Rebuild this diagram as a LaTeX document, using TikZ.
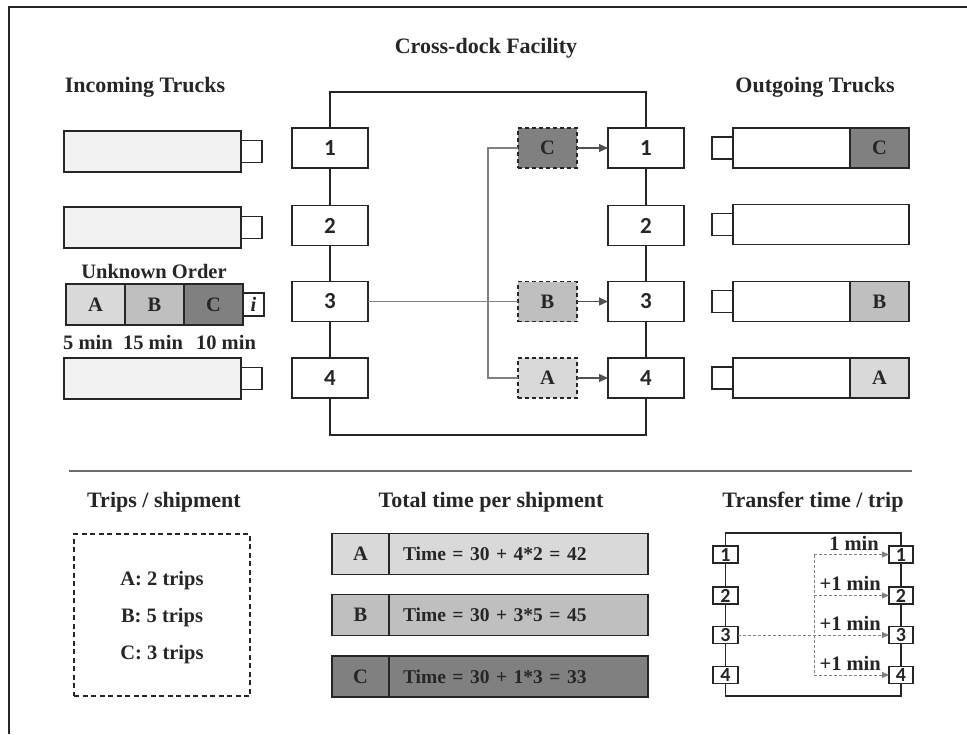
\documentclass[tikz,border=0pt]{standalone}
\usepackage{fontspec}
\setmainfont{Liberation Serif}
\newfontfamily\calib{Carlito}
\usetikzlibrary{arrows.meta,positioning}

\definecolor{lineC}{HTML}{262626}
\definecolor{bodyC}{HTML}{F2F2F2}
\definecolor{shipA}{HTML}{D9D9D9}
\definecolor{shipB}{HTML}{BFBFBF}
\definecolor{shipC}{HTML}{808080}
\definecolor{linkC}{HTML}{808080}

\newcommand\headfont{\fontsize{22}{26}\selectfont\bfseries}
\newcommand\txtfont{\fontsize{20.5}{24}\selectfont\bfseries}
\newcommand\docfont{\fontsize{23}{26}\selectfont\calib\bfseries}
\newcommand\tinyfont{\fontsize{20}{22}\selectfont\calib\bfseries}

\tikzset{
    box/.style={draw=lineC, line width=1.8pt, outer sep=0pt, inner sep=0pt},
    dock/.style={box, fill=white, minimum width=76pt, minimum height=40pt, font=\docfont},
    body/.style={box, minimum width=177pt, minimum height=41pt},
    cab/.style={box, fill=white, minimum width=21pt, minimum height=22pt},
    cargo/.style={box, minimum width=59pt, minimum height=41pt, font=\txtfont},
    ship/.style={box, line width=1.5pt, dash pattern=on 4pt off 3pt, minimum width=59pt, minimum height=40pt, font=\txtfont},
    tag/.style={box, minimum width=57pt, minimum height=41pt, font=\txtfont},
    timebox/.style={box, text width=231pt, inner xsep=14pt, minimum height=41pt, align=left, font=\fontsize{19.5}{23}\selectfont\bfseries},
    mini/.style={box, fill=white, minimum width=25pt, minimum height=17pt, font=\tinyfont},
    link/.style={draw=linkC, line width=1.3pt},
    move/.style={draw=lineC!80, line width=1.3pt, -{Triangle[length=9pt,width=8pt]}},
    hop/.style={draw=linkC, line width=1pt, dash pattern=on 3pt off 2pt},
    lbl/.style={font=\txtfont, inner sep=0pt}
}

\begin{document}
\begin{tikzpicture}[x=1pt, y=-1pt, color=lineC]

    \useasboundingbox (0,0) rectangle (967,734);

    % 1. bingkai dan garis pemisah
    \draw[lineC, line width=1.6pt] (9,734) -- (9,7) -- (967,7);
    \draw[linkC!85!black, line width=1.8pt] (69,471) -- (912,471);

    % 2. judul
    \node[font=\headfont] (ttlDock) at (486,48) {Cross-dock Facility};
    \node[font=\headfont] (ttlIn) at (145,87) {Incoming Trucks};
    \node[font=\headfont] (ttlOut) at (815,87) {Outgoing Trucks};

    % 3. gedung cross-dock dan pintu
    \draw[lineC, line width=1.8pt] (330,92) rectangle (646,435);
    \foreach \n/\y in {1/148,2/225.5,3/301.5,4/378} {
        \node[dock] (in\n) at (330,\y) {\n};
        \node[dock] (out\n) at (646,\y) {\n};
    }

    % 4. truk masuk
    \foreach \n/\y in {1/151.5,2/227.5,4/378.5} {
        \node[body, fill=bodyC] (tin\n) at (152.5,\y) {};
        \node[cab, right=0pt of tin\n] (cin\n) {};
    }
    \node[cargo, fill=shipA] (tA) at (95.5,304.5) {A};
    \node[cargo, fill=shipB, right=0pt of tA] (tB) {B};
    \node[cargo, fill=shipC, right=0pt of tB] (tC) {C};
    \node[cab, minimum height=23pt, font=\txtfont\itshape, right=0pt of tC] (cin3) {i};
    \node[lbl] (unk) at (154,271) {Unknown Order};
    \node[lbl] (minA) at (88,342) {5 min};
    \node[lbl] (minB) at (153,342) {15 min};
    \node[lbl] (minC) at (226,342) {10 min};

    % 5. truk keluar
    \foreach \n/\y in {1/148,2/224.5,3/301.5,4/378} {
        \node[body, fill=white, minimum width=176pt, minimum height=40pt] (tout\n) at (821,\y) {};
        \node[cab, left=0pt of tout\n] (cout\n) {};
    }
    \node[cargo, fill=shipC, minimum height=40pt] (oC) at (879.5,148) {C};
    \node[cargo, fill=shipB, minimum height=40pt] (oB) at (879.5,301.5) {B};
    \node[cargo, fill=shipA, minimum height=40pt] (oA) at (879.5,378) {A};

    % 6. pengiriman di dalam gedung
    \node[ship, fill=shipC] (sC) at (547.5,148) {C};
    \node[ship, fill=shipB] (sB) at (547.5,301.5) {B};
    \node[ship, fill=shipA] (sA) at (547.5,378) {A};
    \draw[link] (in3) -- (sB);
    \draw[link] (sC.west) -- ++(-30,0) |- (sA.west);
    \foreach \s/\d in {C/1,B/3,A/4}
        \draw[move] (s\s) -- (out\d);

    % 7. jumlah trip
    \node[font=\headfont] (ttlTrips) at (164,502) {Trips / shipment};
    \node[box, line width=1.5pt, dash pattern=on 5pt off 3.5pt, minimum width=176pt, minimum height=162pt] (trips) at (162,615) {};
    \node[lbl] (tripA) at (162,581) {A: 2 trips};
    \node[lbl] (tripB) at (162,618) {B: 5 trips};
    \node[lbl] (tripC) at (162,655) {C: 3 trips};

    % 8. total waktu
    \node[font=\headfont] (ttlTime) at (491,502) {Total time per shipment};
    \node[tag, fill=shipA] (kA) at (360.5,554) {A};
    \node[timebox, fill=shipA, right=0pt of kA] (vA) {Time = 30 + 4*2 = 42};
    \node[tag, fill=shipB] (kB) at (360.5,615) {B};
    \node[timebox, fill=shipB, right=0pt of kB] (vB) {Time = 30 + 3*5 = 45};
    \node[tag, fill=shipC] (kC) at (360.5,676.5) {C};
    \node[timebox, fill=shipC, right=0pt of kC] (vC) {Time = 30 + 1*3 = 33};

    % 9. waktu transfer per trip
    \node[font=\headfont] (ttlTrans) at (813,502) {Transfer time / trip};
    \draw[lineC, line width=1.8pt] (725.5,533) rectangle (901,696);
    \foreach \n/\y in {1/554.5,2/595.5,3/635,4/675} {
        \node[mini] (l\n) at (725.5,\y) {\n};
        \node[mini, minimum width=24pt] (r\n) at (901,\y) {\n};
        \coordinate (j\n) at (814,\y);
    }
    \draw[hop] (j1) -- (j4);
    \draw[hop, -{Triangle[length=7pt,width=6pt]}] (l3) -- (r3);
    \foreach \n in {1,2,4}
        \draw[hop, -{Triangle[length=7pt,width=6pt]}] (j\n) -- (r\n);
    \node[lbl, left=10pt of r1.west, anchor=base east, yshift=4pt] (dt1) {1 min};
    \foreach \n in {2,3,4}
        \node[lbl, left=8pt of r\n.west, anchor=base east, yshift=5pt] (dt\n) {+1 min};

\end{tikzpicture}
\end{document}
